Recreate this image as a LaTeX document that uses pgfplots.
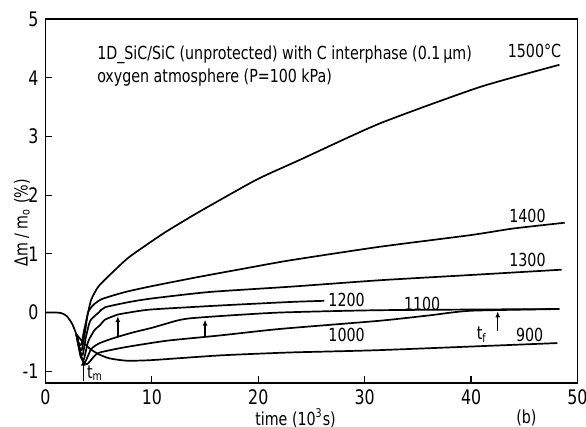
\documentclass[border=0pt]{standalone}
\usepackage{fontspec}
\setmainfont{DejaVu Sans Condensed}[FakeStretch=0.88]
\usepackage{pgfplots}
\pgfplotsset{compat=1.18}
\usetikzlibrary{arrows.meta}
\begin{document}
\begin{tikzpicture}
\path[use as bounding box] (-22.75pt,-22pt) rectangle (270.25pt,191.5pt);
\begin{axis}[
  scale only axis, width=266pt, height=182pt,
  at={(0,0)}, anchor=south west,
  xmin=0, xmax=50, ymin=-1.2, ymax=5,
  xtick={0,10,...,50}, ytick={-1,0,...,5},
  tick pos=left, tick align=inside, major tick length=3.3pt,
  axis line style={line width=0.6pt}, tick style={line width=0.6pt,black},
  /pgf/number format/assume math mode=true,
  tick label style={font=\fontsize{10}{12}\selectfont},
  xlabel={time (10\textsuperscript{3}s)},
  ylabel={Δm / m\textsubscript{o} (\%)},
  label style={font=\fontsize{9}{11}\selectfont},
  xlabel style={at={(axis description cs:0.47,-0.096)}, anchor=center},
  ylabel style={at={(axis description cs:-0.044,0.44)}, anchor=center},
  clip=false,
  cycle list={black,solid,line width=0.85pt,mark=none,smooth,tension=0.35\\},
]
% 1500
\addplot coordinates {(0,0)(1.0,0)(1.5,-0.01)(2.0,-0.06)(2.5,-0.19)(2.9,-0.37)(3.2,-0.56)(3.4,-0.52)(3.6,-0.33)(3.9,-0.08)(4.3,0.22)(5.0,0.45)(6.5,0.72)(7.9,0.95)(11.1,1.35)(14.2,1.69)(19.8,2.26)(23.9,2.6)(31.4,3.22)(40.8,3.84)(48.3,4.22)};
% 1400
\addplot coordinates {(2.9,-0.37)(3.2,-0.6)(3.4,-0.64)(3.7,-0.35)(4.0,0.0)(4.5,0.13)(5.3,0.23)(7.5,0.35)(10,0.45)(14.2,0.6)(19,0.76)(23.0,0.89)(31.4,1.12)(40,1.32)(43.9,1.43)(48.8,1.53)};
% 1300
\addplot coordinates {(2.9,-0.37)(3.3,-0.68)(3.5,-0.72)(3.8,-0.42)(4.2,-0.14)(5.0,0.0)(5.6,0.09)(7.9,0.18)(10,0.24)(15.4,0.35)(23.0,0.44)(31.4,0.55)(40,0.64)(48.5,0.73)};
% 1200
\addplot coordinates {(2.9,-0.37)(3.3,-0.72)(3.6,-0.8)(4.0,-0.5)(4.6,-0.3)(5.1,-0.22)(5.6,-0.12)(6.7,-0.04)(7.2,-0.02)(9.8,0.05)(16.4,0.12)(23.0,0.18)(26.2,0.2)};
% 1100
\addplot coordinates {(2.9,-0.37)(3.3,-0.75)(3.7,-0.85)(4.3,-0.62)(5.1,-0.52)(6.5,-0.43)(8.2,-0.34)(10,-0.26)(12.3,-0.14)(13.5,-0.1)(16.4,-0.06)(22,0.0)(31.4,0.04)(48.3,0.06)};
% 1000
\addplot coordinates {(2.9,-0.37)(3.4,-0.78)(3.9,-0.88)(4.6,-0.74)(5.1,-0.68)(7.5,-0.59)(11.4,-0.48)(16.4,-0.39)(22,-0.28)(31.4,-0.14)(36,-0.05)(39.9,0.03)(48.3,0.06)};
% 900
\addplot coordinates {(2.9,-0.37)(3.5,-0.5)(4.2,-0.62)(5.0,-0.71)(6.0,-0.78)(7.6,-0.82)(10,-0.81)(16.4,-0.73)(23,-0.68)(31.4,-0.64)(48.1,-0.52)};
% annotations
\begin{scope}[font=\fontsize{9}{11}\selectfont]
\node[anchor=west] at (axis cs:4.2,4.39) {1D\_SiC/SiC (unprotected) with C interphase (0.1\,µm)};
\node[anchor=west] at (axis cs:4.2,4.0) {oxygen atmosphere (P=100 kPa)};
\node at (axis cs:45.96,4.46) {1500°C};
\node at (axis cs:45.3,1.64) {1400};
\node at (axis cs:45.3,0.89) {1300};
\node at (axis cs:28.3,0.22) {1200};
\node at (axis cs:35.4,0.15) {1100};
\node at (axis cs:28.3,-0.38) {1000};
\node at (axis cs:45.5,-0.38) {900};
\node at (axis cs:41.0,-0.38) {t\textsubscript{f}};
\node at (axis cs:4.65,-1.04) {t\textsubscript{m}};
\node at (axis description cs:0.904,-0.096) {(b)};
\end{scope}
\draw[-{Latex[length=3pt,width=2.5pt]}, line width=0.7pt] (axis cs:3.55,-1.16) -- (axis cs:3.55,-0.8);
\draw[-{Latex[length=3pt,width=2.5pt]}, line width=0.7pt] (axis cs:6.8,-0.42) -- (axis cs:6.8,-0.06);
\draw[-{Latex[length=3pt,width=2.5pt]}, line width=0.7pt] (axis cs:15.0,-0.40) -- (axis cs:15.0,-0.12);
\draw[-{Latex[length=3pt,width=2.5pt]}, line width=0.7pt] (axis cs:42.5,-0.31) -- (axis cs:42.5,0.02);
\end{axis}
\end{tikzpicture}
\end{document}
